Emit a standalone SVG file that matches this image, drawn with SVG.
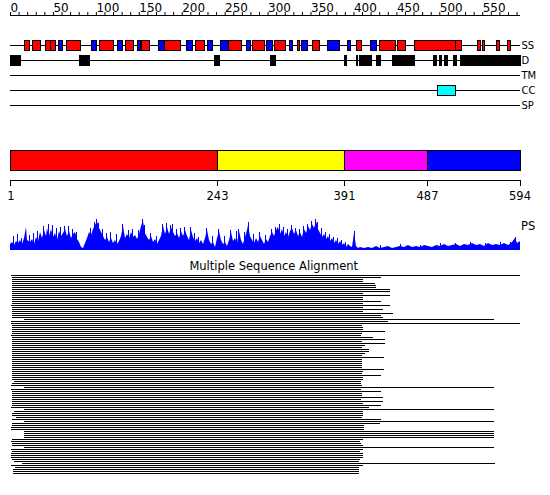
<svg xmlns="http://www.w3.org/2000/svg" width="550" height="495" viewBox="0 0 550 495">
<style>
text{font-family:"DejaVu Sans",sans-serif;fill:#000}
.rl{font-size:12px}
.tl{font-size:10px}
.al{font-size:11.5px;text-anchor:middle}
.ln{stroke:#000;stroke-width:1;fill:none}
.h{fill:#f00;stroke:#000;stroke-width:1}
.e{fill:#00f;stroke:#000;stroke-width:1}
.d{fill:#000;stroke:#000;stroke-width:1}
</style>
<rect width="550" height="495" fill="#fff"/>
<g id="ruler">
<path class="ln" d="M10 15.5H520"/>
<path d="M10 13.5H520" stroke="#000" stroke-width="3" stroke-dasharray="1 7.5859" fill="none"/>
<g class="rl">
<text x="10.5" y="12">0</text>
<text x="53.4" y="12">50</text>
<text x="96.4" y="12">100</text>
<text x="139.3" y="12">150</text>
<text x="182.2" y="12">200</text>
<text x="225.1" y="12">250</text>
<text x="268.1" y="12">300</text>
<text x="311" y="12">350</text>
<text x="353.9" y="12">400</text>
<text x="396.9" y="12">450</text>
<text x="439.8" y="12">500</text>
<text x="482.7" y="12">550</text>
</g>
</g>
<g id="track-SS">
<path class="ln" d="M10 45.5H520"/>
<rect class="h" x="24.5" y="40.5" width="5" height="10"/>
<rect class="h" x="32.5" y="40.5" width="8" height="10"/>
<rect class="h" x="45.5" y="40.5" width="5" height="10"/>
<rect class="h" x="50.5" y="40.5" width="5" height="10"/>
<rect class="e" x="58.5" y="40.5" width="4" height="10"/>
<rect class="h" x="66.5" y="40.5" width="14" height="10"/>
<rect class="e" x="91.5" y="40.5" width="5" height="10"/>
<rect class="h" x="99.5" y="40.5" width="14" height="10"/>
<rect class="e" x="117.5" y="40.5" width="5" height="10"/>
<rect class="h" x="125.5" y="40.5" width="8" height="10"/>
<rect class="e" x="137.5" y="40.5" width="3" height="10"/>
<rect class="h" x="141.5" y="40.5" width="8" height="10"/>
<rect class="e" x="158.5" y="40.5" width="6" height="10"/>
<rect class="h" x="164.5" y="40.5" width="16" height="10"/>
<rect class="e" x="186.5" y="40.5" width="6" height="10"/>
<rect class="h" x="195.5" y="40.5" width="9" height="10"/>
<rect class="e" x="207.5" y="40.5" width="5" height="10"/>
<rect class="e" x="220.5" y="40.5" width="8" height="10"/>
<rect class="h" x="228.5" y="40.5" width="13" height="10"/>
<rect class="e" x="246.5" y="40.5" width="4" height="10"/>
<rect class="h" x="252.5" y="40.5" width="12" height="10"/>
<rect class="e" x="266.5" y="40.5" width="6" height="10"/>
<rect class="h" x="274.5" y="40.5" width="11" height="10"/>
<rect class="e" x="289.5" y="40.5" width="3" height="10"/>
<rect class="h" x="297.5" y="40.5" width="2" height="10"/>
<rect class="e" x="301.5" y="40.5" width="6" height="10"/>
<rect class="h" x="312.5" y="40.5" width="7" height="10"/>
<rect class="e" x="327.5" y="40.5" width="12" height="10"/>
<rect class="e" x="347.5" y="40.5" width="3" height="10"/>
<rect class="h" x="356.5" y="40.5" width="5" height="10"/>
<rect class="e" x="370.5" y="40.5" width="6" height="10"/>
<rect class="h" x="379.5" y="40.5" width="16" height="10"/>
<rect class="h" x="397.5" y="40.5" width="8" height="10"/>
<rect class="h" x="414.5" y="40.5" width="41" height="10"/>
<rect class="h" x="455.5" y="40.5" width="6" height="10"/>
<rect class="h" x="477.5" y="40.5" width="3" height="10"/>
<rect class="h" x="482.5" y="40.5" width="2" height="10"/>
<rect class="h" x="496.5" y="40.5" width="3" height="10"/>
<rect class="h" x="507.5" y="40.5" width="3" height="10"/>
<text class="tl" x="521.5" y="49">SS</text>
</g>
<g id="track-D">
<path class="ln" d="M10 60.5H520"/>
<rect class="d" x="10.5" y="55.5" width="10" height="10"/>
<rect class="d" x="79.5" y="55.5" width="10" height="10"/>
<rect class="d" x="214.5" y="55.5" width="5" height="10"/>
<rect class="d" x="270.5" y="55.5" width="5" height="10"/>
<rect class="d" x="344.5" y="55.5" width="2" height="10"/>
<rect class="d" x="356.5" y="55.5" width="1" height="10"/>
<rect class="d" x="359.5" y="55.5" width="12" height="10"/>
<rect class="d" x="376.5" y="55.5" width="4" height="10"/>
<rect class="d" x="392.5" y="55.5" width="9" height="10"/>
<rect class="d" x="401.5" y="55.5" width="13" height="10"/>
<rect class="d" x="433.5" y="55.5" width="3" height="10"/>
<rect class="d" x="439.5" y="55.5" width="2" height="10"/>
<rect class="d" x="444.5" y="55.5" width="3" height="10"/>
<rect class="d" x="453.5" y="55.5" width="3" height="10"/>
<rect class="d" x="460.5" y="55.5" width="60" height="10"/>
<text class="tl" x="521.5" y="64">D</text>
</g>
<g id="track-TM">
<path class="ln" d="M10 75.5H520"/>
<text class="tl" x="521.5" y="79">TM</text>
</g>
<g id="track-CC">
<path class="ln" d="M10 90.5H520"/>
<rect x="437.5" y="85.5" width="18" height="10" fill="#0ff" stroke="#000"/>
<text class="tl" x="521.5" y="94">CC</text>
</g>
<g id="track-SP">
<path class="ln" d="M10 105.5H520"/>
<text class="tl" x="521.5" y="109">SP</text>
</g>
<g id="domains">
<rect x="10.5" y="150.5" width="207" height="20" fill="#f00" stroke="#000"/>
<rect x="217.5" y="150.5" width="127" height="20" fill="#ff0" stroke="#000"/>
<rect x="344.5" y="150.5" width="83" height="20" fill="#f0f" stroke="#000"/>
<rect x="427.5" y="150.5" width="93" height="20" fill="#00f" stroke="#000"/>
</g>
<g id="domain-axis">
<path class="ln" d="M10 180.5H521M10.5 180V186M217.5 180V186M344.5 180V186M427.5 180V186M520.5 180V186"/>
<g class="al">
<text x="11" y="200">1</text>
<text x="217.5" y="200">243</text>
<text x="344.5" y="200">391</text>
<text x="427.5" y="200">487</text>
<text x="520" y="200">594</text>
</g>
</g>
<g id="ps-plot">
<path fill="#00f" d="M10 250L10 244L12 242L14 245L16 241L18 243L20 240L22 244L24 238L26 227L27 240L30 242L32 239L34 244L36 237L38 241L40 232L42 238L44 230L46 236L47 228L49 236L51 229L53 237L55 233L57 240L59 231L61 236L63 233L65 229L67 236L69 231L71 238L73 234L75 232L77 239L79 242L81 247L83 248L85 243L87 238L89 232L91 235L93 229L95 225L97 221L99 228L101 232L103 236L105 240L107 237L109 242L111 238L113 243L115 240L117 244L119 241L121 236L123 226L125 238L127 234L129 238L131 232L133 237L135 235L137 239L139 234L141 226L143 221L145 233L147 237L149 240L151 236L153 242L155 239L157 244L159 240L161 236L163 226L165 234L167 227L169 234L171 227L173 232L175 236L177 233L179 238L181 231L183 236L185 230L187 236L189 240L191 230L193 237L195 241L197 238L199 243L201 240L203 244L205 238L207 230L209 240L211 244L213 242L215 247L217 238L219 231L221 240L223 244L225 242L227 246L229 240L231 232L233 241L235 238L237 243L239 231L241 240L243 244L245 237L247 230L248 225L250 236L252 240L254 243L256 238L258 242L260 236L262 240L264 244L266 239L268 242L270 236L272 232L274 236L276 230L278 227L280 234L282 229L284 236L286 232L288 237L290 231L292 228L294 234L296 230L298 236L300 232L302 237L304 229L306 233L308 226L310 230L312 224L314 228L316 221L318 229L320 233L322 237L324 234L326 239L328 236L330 241L332 238L334 243L336 240L338 244L340 241L342 245L344 243L346 247L348 244L350 246L352 247L354 233L356 246L358 248L360 247L364 248L368 247L372 248L376 246L380 248L384 247L388 246L392 248L396 247L400 246L404 247L408 245L412 247L416 246L420 247L424 245L428 246L432 247L436 245L440 246L444 244L448 246L452 245L456 244L460 246L464 244L468 245L472 243L476 245L480 244L484 246L488 243L492 245L496 244L500 245L504 243L508 245L512 242L515 238L517 243L520 241L520 250Z"/>
<path stroke="#00f" stroke-width="1" fill="none" d="M13.5 250V236M17.5 250V234M21.5 250V238M29.5 250V235M33.5 250V233M37.5 250V231M43.5 250V226M48.5 250V224M52.5 250V225M56.5 250V228M60.5 250V227M64.5 250V226M68.5 250V226M72.5 250V229M76.5 250V232M90.5 250V228M94.5 250V222M96.5 250V219M98.5 250V223M102.5 250V229M106.5 250V233M110.5 250V232M116.5 250V234M122.5 250V224M128.5 250V230M132.5 250V229M138.5 250V230M142.5 250V219M144.5 250V225M150.5 250V233M156.5 250V236M162.5 250V224M166.5 250V223M170.5 250V225M172.5 250V224M176.5 250V229M180.5 250V228M184.5 250V227M190.5 250V227M194.5 250V233M198.5 250V237M206.5 250V228M212.5 250V236M218.5 250V229M224.5 250V236M230.5 250V230M236.5 250V231M238.5 250V229M244.5 250V232M248.5 250V222M253.5 250V234M259.5 250V232M265.5 250V235M271.5 250V229M275.5 250V227M279.5 250V224M283.5 250V227M287.5 250V229M291.5 250V225M295.5 250V228M299.5 250V229M303.5 250V226M307.5 250V224M311.5 250V221M315.5 250V219M317.5 250V222M321.5 250V228M325.5 250V232M329.5 250V234M333.5 250V237M337.5 250V238M341.5 250V240M345.5 250V242M354.5 250V231M380.5 250V245M400.5 250V244M420.5 250V245M440.5 250V243M455.5 250V243M470.5 250V242M485.5 250V243M500.5 250V242M510.5 250V242M515.5 250V237"/>
<text x="521" y="230" style="font-size:11.5px">PS</text>
</g>
<g id="msa">
<text class="al" x="273.7" y="270">Multiple Sequence Alignment</text>
<path class="ln" d="M11 275.5H520M12 277.5H381M12 279.5H363M12 281.5H363M12 283.5H375M12 285.5H376M12 287.5H376M12 289.5H390M12 291.5H390M12 293.5H363M12 295.5H390M12 297.5H363M12 299.5H363M12 301.5H381M12 303.5H363M11 305.5H390M12 307.5H363M12 309.5H383M12 311.5H363M12 313.5H393M12 315.5H381M12 317.5H383M24 319.5H494M11 321.5H388M11 323.5H520M12 325.5H362M12 327.5H363M12 329.5H363M12 331.5H385M12 333.5H362M11 335.5H361M12 337.5H373M12 339.5H385M12 341.5H362M12 343.5H385M12 345.5H365M12 347.5H362M12 349.5H369M12 351.5H369M12 353.5H365M12 355.5H362M12 357.5H384M12 359.5H362M12 361.5H362M12 363.5H362M12 365.5H362M12 367.5H362M12 369.5H384M12 371.5H363M12 373.5H362M12 375.5H381M12 377.5H363M12 379.5H363M14 381.5H361M12 383.5H361M11 385.5H362M24 387.5H494M11 389.5H361M12 391.5H381M12 393.5H362M12 395.5H362M12 397.5H383M12 399.5H361M12 401.5H383M12 403.5H363M12 405.5H381M11 407.5H369M24 409.5H494M14 411.5H363M12 413.5H363M12 415.5H363M16 417.5H362M12 419.5H381M24 421.5H494M12 423.5H380M12 425.5H364M11 427.5H364M11 429.5H364M24 431.5H494M24 433.5H494M24 435.5H494M24 437.5H494M12 439.5H363M11 441.5H360M12 443.5H361M12 445.5H363M24 447.5H494M11 449.5H363M12 451.5H360M11 453.5H363M11 455.5H363M11 457.5H363M12 459.5H360M14 461.5H359M22 463.5H495M11 465.5H363M15 467.5H359M13 469.5H359M13 471.5H359M13 473.5H359"/>
</g>
</svg>
